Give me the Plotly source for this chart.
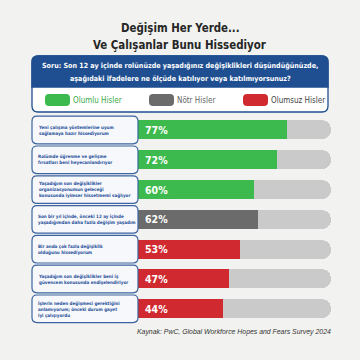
import plotly.graph_objects as go

# ---------------- data ----------------
title_lines = ["Değişim Her Yerde...", "Ve Çalışanlar Bunu Hissediyor"]
question_lines = ["Soru: Son 12 ay içinde rolünüzde yaşadığınız değişiklikleri düşündüğünüzde,",
                  "aşağıdaki ifadelere ne ölçüde katılıyor veya katılmıyorsunuz?"]
legend_names = ["Olumlu Hisler", "Nötr Hisler", "Olumsuz Hisler"]
statements = [
    "Yeni çalışma yöntemlerine uyum<br>sağlamaya hazır hissediyorum",
    "Rolümde öğrenme ve gelişme<br>fırsatları beni heyecanlandırıyor",
    "Yaşadığım son değişiklikler<br>organizasyonumun geleceği<br>konusunda iyimser hissetmemi sağlıyor",
    "Son bir yıl içinde, önceki 12 ay içinde<br>yaşadığımdan daha fazla değişim yaşadım",
    "Bir anda çok fazla değişiklik<br>olduğunu hissediyorum",
    "Yaşadığım son değişiklikler beni iş<br>güvencem konusunda endişelendiriyor",
    "İşlerin neden değişmesi gerektiğini<br>anlamıyorum; önceki durum gayet<br>iyi çalışıyordu",
]
values = [77, 72, 60, 62, 53, 47, 44]
sentiment = [0, 0, 0, 1, 2, 2, 2]  # index into legend_names
source_text = "Kaynak: PwC, Global Workforce Hopes and Fears Survey 2024"

# ---------------- style ----------------
W = H = 360
COND = "Liberation Sans Narrow, DejaVu Sans Condensed, Roboto, sans-serif"
sent_colors = ["#3dba4e", "#6b6b6b", "#d02a30"]
legend_text_colors = ["#3aa845", "#666666", "#444444"]
track_color = "#cacaca"
blue = "#1f4f91"
label_blue = "#1f4f9a"
bg = "#f2f2f0"

def P(x, y):
    return x / W, 1 - y / H

def rr_path(x0, y0, x1, y1, r, top=True, bottom=True):
    rt = r if top else 0
    rb = r if bottom else 0
    def f(x, y):
        px, py = P(x, y)
        return f"{px:.5f},{py:.5f}"
    s = f"M {f(x0 + rt, y0)} L {f(x1 - rt, y0)} "
    s += f"Q {f(x1, y0)} {f(x1, y0 + rt)} " if rt else ""
    s += f"L {f(x1, y1 - rb)} "
    s += f"Q {f(x1, y1)} {f(x1 - rb, y1)} " if rb else ""
    s += f"L {f(x0 + rb, y1)} "
    s += f"Q {f(x0, y1)} {f(x0, y1 - rb)} " if rb else ""
    s += f"L {f(x0, y0 + rt)} "
    s += f"Q {f(x0, y0)} {f(x0 + rt, y0)} " if rt else ""
    return s + "Z"

n = len(values)
rows = list(range(n))
row_top_px, row_step_px = 130.0, 29.8
y_top_px = row_top_px - row_step_px / 2
y_bot_px = row_top_px + row_step_px * (n - 1) + row_step_px / 2
x0_px, x100_px = 138.0, 331.0

fig = go.Figure()
fig.add_trace(go.Bar(
    y=rows, x=[100] * n, orientation="h", width=0.64,
    marker=dict(color=track_color, cornerradius=10, line=dict(width=0)),
    hoverinfo="skip", showlegend=False))
fig.add_trace(go.Bar(
    y=rows, x=values, orientation="h", width=0.64,
    marker=dict(color=[sent_colors[s] for s in sentiment], cornerradius=10, line=dict(width=0)),
    hoverinfo="skip", showlegend=False))

shapes = []
annotations = []

# title
for i, t in enumerate(title_lines):
    annotations.append(dict(xref="paper", yref="paper", x=0.5, y=P(0, 28 + 17 * i)[1],
                            text=f"<b>{t}</b>", showarrow=False, xanchor="center", yanchor="middle",
                            font=dict(family=COND, size=11.4, color="#262626")))

# question + legend box
shapes.append(dict(type="path", xref="paper", yref="paper",
                   path=rr_path(32, 56, 328, 112, 6), fillcolor="#ffffff",
                   line=dict(color=blue, width=1.3), layer="above"))
shapes.append(dict(type="path", xref="paper", yref="paper",
                   path=rr_path(32, 56, 328, 87, 6, bottom=False), fillcolor=blue,
                   line=dict(color=blue, width=1.3), layer="above"))
for i, q in enumerate(question_lines):
    annotations.append(dict(xref="paper", yref="paper", x=0.5, y=P(0, 65 + 13.5 * i)[1],
                            text=f"<b>{q}</b>", showarrow=False, xanchor="center", yanchor="middle",
                            font=dict(family=COND, size=7.1, color="#ffffff")))
leg_x = [45, 149, 243]
for i, name in enumerate(legend_names):
    shapes.append(dict(type="path", xref="paper", yref="paper",
                       path=rr_path(leg_x[i], 94, leg_x[i] + 25, 106, 4), fillcolor=sent_colors[i],
                       line=dict(width=0), layer="above"))
    annotations.append(dict(xref="paper", yref="paper", x=(leg_x[i] + 26) / W, y=P(0, 100)[1],
                            text=name, showarrow=False, xanchor="left", yanchor="middle",
                            font=dict(family=COND, size=8.0, color=legend_text_colors[i])))

# statement boxes and labels
for i, (s, v) in enumerate(zip(statements, values)):
    cy = row_top_px + row_step_px * i
    shapes.append(dict(type="path", xref="paper", yref="paper",
                       path=rr_path(32, cy - 13.8, 138, cy + 13.8, 5), fillcolor="#f7f8fb",
                       line=dict(color="#3b64a0", width=1.2), layer="above"))
    annotations.append(dict(xref="paper", yref="y", x=36 / W, y=i, text=f"<b>{s}</b>",
                            showarrow=False, xanchor="left", yanchor="middle", align="left",
                            font=dict(family=COND, size=4.55, color=label_blue)))
    annotations.append(dict(xref="x", yref="y", x=0, y=i, xshift=5, text=f"<b>{v}%</b>",
                            showarrow=False, xanchor="left", yanchor="middle",
                            font=dict(family=COND, size=10.5, color="#ffffff")))

annotations.append(dict(xref="paper", yref="paper", x=333 / W, y=P(0, 332)[1],
                        text=f"<i>{source_text}</i>", showarrow=False, xanchor="right", yanchor="middle",
                        font=dict(family="Liberation Sans, Arial, sans-serif", size=6.9, color="#333333")))

fig.update_layout(
    width=W, height=H, margin=dict(l=0, r=0, t=0, b=0),
    paper_bgcolor=bg, plot_bgcolor="rgba(0,0,0,0)",
    barmode="overlay", bargap=0,
    xaxis=dict(domain=[x0_px / W, x100_px / W], range=[0, 100], visible=False, fixedrange=True),
    yaxis=dict(domain=[1 - y_bot_px / H, 1 - y_top_px / H], range=[n - 0.5, -0.5],
               visible=False, fixedrange=True),
    shapes=shapes, annotations=annotations, showlegend=False,
)

fig.write_html("out.html", config={"displayModeBar": False},
               post_script="document.body.style.margin='0';document.body.style.background='#f2f2f0';")
